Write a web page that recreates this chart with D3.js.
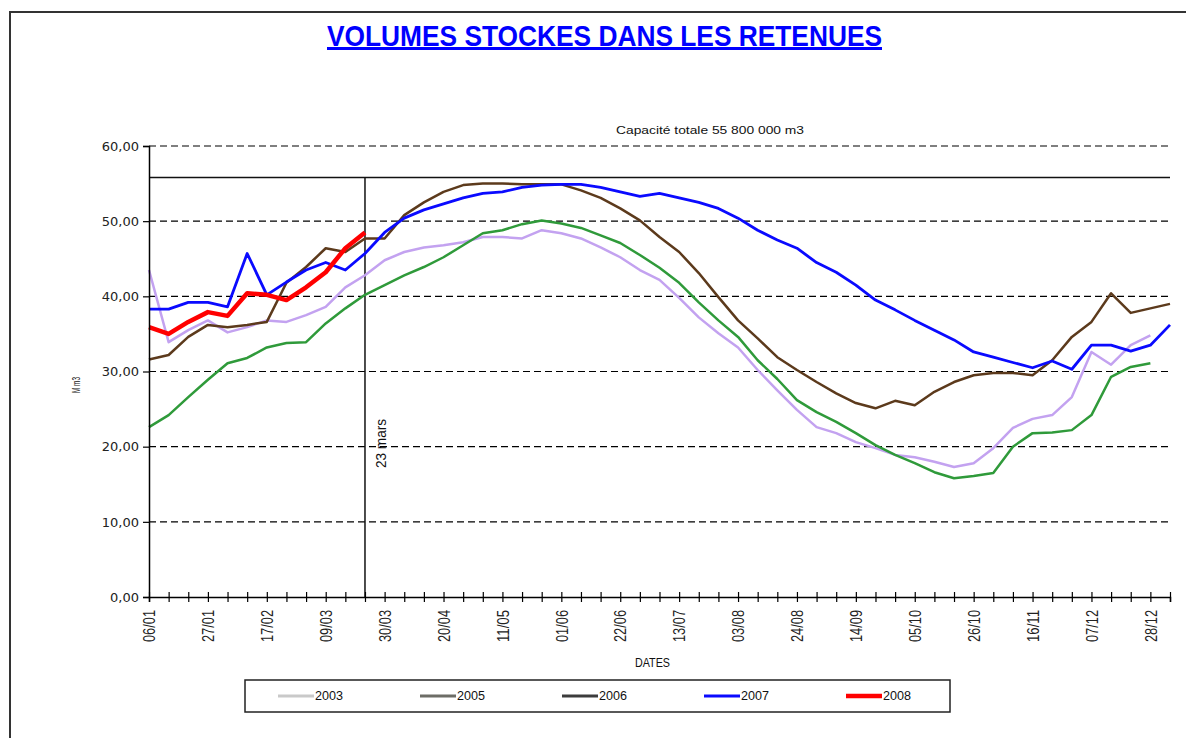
<!DOCTYPE html>
<html>
<head>
<meta charset="utf-8">
<title>Volumes stockes dans les retenues</title>
<script src="https://cdn.jsdelivr.net/npm/d3@7"></script>
<style>
  body { margin: 0; background: #fff; }
  text { font-family: "Liberation Sans", Arial, sans-serif; fill: #111; }
</style>
</head>
<body>
<script>
// weekly dates (categories)
var weeks = ["2008-01-06","2008-01-13","2008-01-20","2008-01-27","2008-02-03","2008-02-10","2008-02-17",
  "2008-02-24","2008-03-02","2008-03-09","2008-03-16","2008-03-23","2008-03-30","2008-04-06","2008-04-13",
  "2008-04-20","2008-04-27","2008-05-04","2008-05-11","2008-05-18","2008-05-25","2008-06-01","2008-06-08",
  "2008-06-15","2008-06-22","2008-06-29","2008-07-06","2008-07-13","2008-07-20","2008-07-27","2008-08-03",
  "2008-08-10","2008-08-17","2008-08-24","2008-08-31","2008-09-07","2008-09-14","2008-09-21","2008-09-28",
  "2008-10-05","2008-10-12","2008-10-19","2008-10-26","2008-11-02","2008-11-09","2008-11-16","2008-11-23",
  "2008-11-30","2008-12-07","2008-12-14","2008-12-21","2008-12-28","2009-01-04"];

var years = ["2003", "2005", "2006", "2007", "2008"];

var v2003 = [43.5,33.9,35.5,36.8,35.2,35.9,36.8,36.6,37.5,38.6,41.2,42.8,44.8,45.9,46.5,46.8,47.2,47.9,47.9,47.7,
  48.8,48.4,47.7,46.5,45.2,43.5,42.2,39.8,37.2,35.1,33.2,30.2,27.5,24.9,22.6,21.8,20.6,19.8,18.9,18.6,
  18.0,17.3,17.8,19.8,22.5,23.7,24.2,26.6,32.6,30.9,33.5,34.8];
var v2005 = [22.6,24.2,26.6,28.9,31.1,31.8,33.2,33.8,33.9,36.4,38.4,40.2,41.5,42.8,43.9,45.2,46.8,48.4,48.8,49.6,
  50.1,49.7,49.1,48.1,47.1,45.5,43.8,41.8,39.2,36.8,34.6,31.5,29.0,26.2,24.6,23.3,21.8,20.2,18.9,17.8,
  16.6,15.8,16.1,16.5,20.0,21.8,21.9,22.2,24.2,29.3,30.6,31.1];
var v2006 = [31.6,32.2,34.6,36.2,35.9,36.2,36.6,41.8,43.9,46.4,45.9,47.7,47.7,50.8,52.5,53.9,54.8,55.0,55.0,54.9,
  54.9,54.9,54.1,53.1,51.7,50.1,47.9,45.9,43.1,39.9,36.8,34.4,31.9,30.2,28.6,27.1,25.8,25.1,26.1,25.5,
  27.3,28.6,29.5,29.8,29.8,29.5,31.5,34.6,36.6,40.4,37.8,38.4,39.0];
var v2007 = [38.3,38.3,39.2,39.2,38.6,45.7,40.2,41.9,43.5,44.5,43.5,45.7,48.5,50.4,51.5,52.3,53.1,53.7,53.9,54.5,
  54.8,54.9,54.9,54.5,53.9,53.3,53.7,53.1,52.5,51.7,50.4,48.8,47.5,46.4,44.5,43.2,41.5,39.5,38.2,36.8,
  35.5,34.2,32.6,31.9,31.2,30.5,31.4,30.3,33.5,33.5,32.7,33.5,36.2];
var v2008 = [35.9,35.0,36.6,37.9,37.4,40.4,40.2,39.5,41.2,43.2,46.4,48.5];

var yTicks = [0, 10, 20, 30, 40, 50, 60];
var capacity = 55.8;
var markDate = "2008-03-23";

var lineColors = {"2003": "#c3a2f0", "2005": "#2f9a3a", "2006": "#5c3a1c", "2007": "#0a0aff", "2008": "#ff0000"};
var legendColors = {"2003": "#c9c9c9", "2005": "#6d6d66", "2006": "#3c3c3c", "2007": "#0a0aff", "2008": "#ff0000"};
var lineWidths = {"2003": 2.5, "2005": 2.5, "2006": 2.5, "2007": 2.8, "2008": 4.5};

var W = 1186, H = 738;
var margin = {top: 146, right: 16, bottom: 141, left: 149},
    width = W - margin.left - margin.right,
    height = H - margin.top - margin.bottom;

var parse = d3.utcParse("%Y-%m-%d");
var dates = weeks.map(parse);
var series = [
  {year: "2003", values: v2003},
  {year: "2005", values: v2005},
  {year: "2006", values: v2006},
  {year: "2007", values: v2007},
  {year: "2008", values: v2008}
];

var svg = d3.select("body").append("svg")
  .attr("width", W).attr("height", H);

// page frame
svg.append("path")
  .attr("d", "M10," + H + "V12H" + W)
  .attr("fill", "none").attr("stroke", "#333").attr("stroke-width", 2);

// title
svg.append("text")
  .attr("x", 327).attr("y", 46)
  .attr("textLength", 555).attr("lengthAdjust", "spacingAndGlyphs")
  .style("font-size", "30px").style("font-weight", "bold").style("fill", "#0000ff")
  .text("VOLUMES STOCKES DANS LES RETENUES");
svg.append("rect").attr("x", 327).attr("y", 47).attr("width", 555).attr("height", 3).attr("fill", "#0000ff");

var g = svg.append("g").attr("transform", "translate(" + margin.left + "," + margin.top + ")");

var x = d3.scaleUtc().domain([dates[0], dates[dates.length - 1]]).range([0, width]);
var y = d3.scaleLinear().domain([0, 60]).range([height, 0]);

// dashed grid
g.selectAll(".grid").data(yTicks.filter(function(d) { return d > 0; }))
  .enter().append("line")
  .attr("x1", 0).attr("x2", width)
  .attr("y1", function(d) { return y(d); }).attr("y2", function(d) { return y(d); })
  .attr("stroke", "#000").attr("stroke-width", 1.2).attr("stroke-dasharray", "7,4");

// capacity line
g.append("line")
  .attr("x1", 0).attr("x2", width)
  .attr("y1", y(capacity)).attr("y2", y(capacity))
  .attr("stroke", "#111").attr("stroke-width", 1.5);

g.append("text")
  .attr("x", 616 - margin.left).attr("y", 134 - margin.top)
  .attr("textLength", 188).attr("lengthAdjust", "spacingAndGlyphs")
  .style("font-size", "11px")
  .text("Capacité totale 55 800 000 m3");

// 23 mars marker
var mx = x(parse(markDate));
g.append("line")
  .attr("x1", mx).attr("x2", mx).attr("y1", y(capacity)).attr("y2", y(0))
  .attr("stroke", "#111").attr("stroke-width", 1.5);
g.append("text")
  .attr("transform", "translate(" + (mx + 21) + "," + (468 - margin.top) + ") rotate(-90)")
  .attr("textLength", 49).attr("lengthAdjust", "spacingAndGlyphs")
  .style("font-size", "14px")
  .text("23 mars");

// series
var line = d3.line()
  .x(function(d, i) { return x(dates[i]); })
  .y(function(d) { return y(d); });

g.selectAll(".serie").data(series)
  .enter().append("path")
  .attr("class", "serie")
  .attr("fill", "none")
  .attr("stroke", function(d) { return lineColors[d.year]; })
  .attr("stroke-width", function(d) { return lineWidths[d.year]; })
  .attr("stroke-linejoin", "round")
  .attr("d", function(d) { return line(d.values); });

// y axis
var yAxis = g.append("g")
  .call(d3.axisLeft(y).tickValues(yTicks).tickSize(6).tickPadding(4)
    .tickFormat(function(d) { return d3.format(".2f")(d).replace(".", ","); }));
yAxis.select(".domain").attr("stroke", "#000").attr("stroke-width", 1.5);
yAxis.selectAll(".tick line").attr("stroke", "#000").attr("stroke-width", 1.2);
yAxis.selectAll("text")
  .style("font-family", "'DejaVu Sans', sans-serif").style("font-size", "13px").style("fill", "#222");

// x axis
var fmt = d3.utcFormat("%d/%m");
var xAxis = g.append("g")
  .attr("transform", "translate(0," + height + ")")
  .call(d3.axisBottom(x).tickValues(dates).tickSize(5)
    .tickFormat(function(d, i) { return i % 3 === 0 ? fmt(d) : ""; }));
xAxis.select(".domain").attr("stroke", "#000").attr("stroke-width", 1.5);
xAxis.selectAll(".tick line").attr("y1", -5).attr("y2", 5).attr("stroke", "#000").attr("stroke-width", 1.2);
xAxis.selectAll("text")
  .attr("transform", "rotate(-90)")
  .attr("text-anchor", "end")
  .attr("x", -13).attr("y", 0).attr("dy", "0.36em")
  .filter(function() { return this.textContent !== ""; })
  .attr("textLength", 32).attr("lengthAdjust", "spacingAndGlyphs")
  .style("font-size", "16px").style("fill", "#222");

// axis titles
svg.append("text")
  .attr("transform", "translate(80,393) rotate(-90)")
  .attr("textLength", 16).attr("lengthAdjust", "spacingAndGlyphs")
  .style("font-size", "11px")
  .text("M m3");
svg.append("text")
  .attr("x", 635).attr("y", 667)
  .attr("textLength", 35).attr("lengthAdjust", "spacingAndGlyphs")
  .style("font-size", "12px")
  .text("DATES");

// legend
var legend = svg.append("g");
legend.append("rect")
  .attr("x", 245).attr("y", 680).attr("width", 705).attr("height", 32)
  .attr("fill", "none").attr("stroke", "#222").attr("stroke-width", 1.5);
var item = legend.selectAll(".item").data(years)
  .enter().append("g")
  .attr("transform", function(d, i) { return "translate(" + (278 + i * 142) + ",696)"; });
item.append("line")
  .attr("x1", 0).attr("x2", 36)
  .attr("stroke", function(d) { return legendColors[d]; })
  .attr("stroke-width", function(d) { return d === "2008" ? 4.5 : 3; });
item.append("text")
  .attr("x", 37).attr("dy", "0.35em")
  .attr("textLength", 28).attr("lengthAdjust", "spacingAndGlyphs")
  .style("font-size", "12px")
  .text(function(d) { return d; });
</script>
</body>
</html>
